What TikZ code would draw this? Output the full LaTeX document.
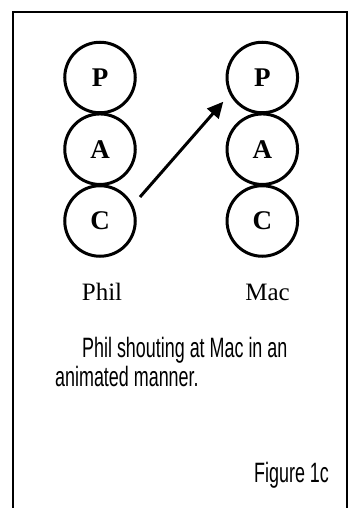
\documentclass[tikz,border=0pt]{standalone}
\usepackage{fontspec}
\setmainfont{Liberation Serif}
\newfontfamily\capfont[FakeStretch=0.64]{Liberation Sans}
\usetikzlibrary{arrows.meta}
\tikzset{
  egostate/.style={circle, draw, line width=3pt, minimum size=70.5pt, inner sep=0pt,
    font=\fontsize{27}{30}\selectfont\bfseries},
  personlabel/.style={anchor=base, inner sep=0pt, font=\fontsize{25}{30}\selectfont},
  captionline/.style={anchor=base west, inner sep=0pt, font=\capfont\fontsize{28}{32}\selectfont},
  shoutarrow/.style={line width=3pt, -{Triangle[length=16pt,width=15pt]}},
  borderline/.style={line width=2pt}
}
\begin{document}
\begin{tikzpicture}[x=1pt,y=-1pt]
\useasboundingbox (0,0) rectangle (350,508);
\draw[borderline] (13,508) -- (13,12) -- (346.5,12) -- (346.5,508);
% Phil
\node[egostate] (lp) at (100,77.5) {P};
\node[egostate] (la) at (100,149.2) {A};
\node[egostate] (lc) at (100,221) {C};
% Mac
\node[egostate] (rp) at (262.3,77.5) {P};
\node[egostate] (ra) at (262.3,149.2) {A};
\node[egostate] (rc) at (262.3,221) {C};
% arrow
\coordinate (s) at (140,197);
\coordinate (t) at (223.3,101.7);
\draw[shoutarrow] (s) -- (t);
% labels
\node[personlabel] (phil) at (102,300) {Phil};
\node[personlabel] (mac) at (267.5,300) {Mac};
\node[captionline] (c1) at (82,357) {Phil shouting at Mac in an};
\node[captionline] (c2) at (55,386) {animated manner.};
\node[captionline] (fig) at (254,482) {Figure 1c};
\end{tikzpicture}
\end{document}
